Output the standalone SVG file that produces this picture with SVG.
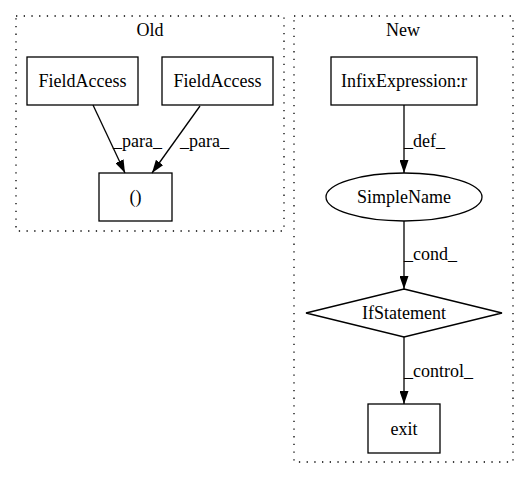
<svg xmlns="http://www.w3.org/2000/svg" width="529" height="480" viewBox="0 0 529 480">
<style>
text{font-family:"Liberation Serif","Times New Roman",serif;font-size:18px;fill:#000}
.c{text-anchor:middle}
.n{fill:#fff;stroke:#000;stroke-width:1.3}
.cl{fill:none;stroke:#000;stroke-width:1.3;stroke-dasharray:1.3,6.4}
.e{fill:none;stroke:#000;stroke-width:1.3}
</style>
<defs>
<marker id="ah" viewBox="0 0 13 9" refX="13" refY="4.5" markerWidth="13" markerHeight="9" orient="auto" markerUnits="userSpaceOnUse">
<path d="M0,0 L13,4.5 L0,9 z" fill="#000"/>
</marker>
</defs>
<rect width="529" height="480" fill="#fff"/>
<g id="cluster_old">
<rect class="cl" x="16" y="16" width="268" height="215"/>
<text class="c" x="150" y="36">Old</text>
</g>
<g id="cluster_new">
<rect class="cl" x="294" y="16" width="219" height="446"/>
<text class="c" x="403" y="36">New</text>
</g>
<g id="fa1">
<rect class="n" x="27" y="57" width="111" height="48"/>
<text class="c" x="82.5" y="87">FieldAccess</text>
</g>
<g id="fa2">
<rect class="n" x="162" y="57" width="111" height="48"/>
<text class="c" x="217.5" y="87">FieldAccess</text>
</g>
<g id="paren">
<rect class="n" x="99" y="173" width="73" height="48"/>
<text class="c" x="135.5" y="203">()</text>
</g>
<g id="infix">
<rect class="n" x="331" y="57" width="146" height="48"/>
<text class="c" x="404" y="87">InfixExpression:r</text>
</g>
<g id="simplename">
<ellipse class="n" cx="404" cy="197" rx="78" ry="24"/>
<text class="c" x="404" y="203">SimpleName</text>
</g>
<g id="ifstmt">
<polygon class="n" points="404,289 502,313 404,337 306,313"/>
<text class="c" x="404" y="319">IfStatement</text>
</g>
<g id="exit">
<rect class="n" x="368" y="404" width="72" height="49"/>
<text class="c" x="404" y="435">exit</text>
</g>
<g id="edges">
<path class="e" d="M93,105 L125,173" marker-end="url(#ah)"/>
<text x="113" y="147">_para_</text>
<path class="e" d="M200,106 L152,173" marker-end="url(#ah)"/>
<text x="180" y="147">_para_</text>
<path class="e" d="M404,105 L404,173" marker-end="url(#ah)"/>
<text x="404" y="147">_def_</text>
<path class="e" d="M404,221 L404,289" marker-end="url(#ah)"/>
<text x="404" y="260">_cond_</text>
<path class="e" d="M404,337 L404,404" marker-end="url(#ah)"/>
<text x="404" y="377">_control_</text>
</g>
</svg>
